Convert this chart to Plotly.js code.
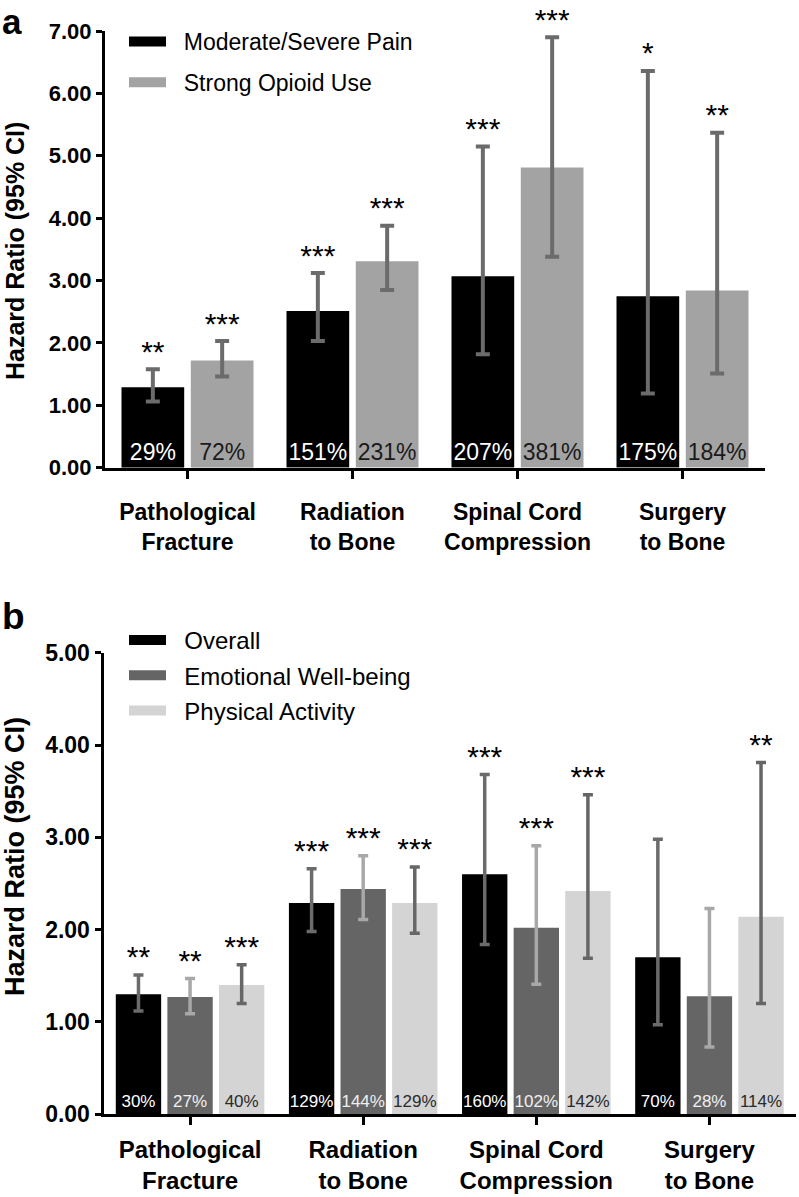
<!DOCTYPE html>
<html>
<head>
<meta charset="utf-8">
<script src="https://cdn.plot.ly/plotly-3.0.1.min.js"></script>
<style>html,body{margin:0;padding:0;background:#fff;}#chart{width:799px;height:1197px;}</style>
</head>
<body>
<div id="chart"></div>
<script>
// ---------- DATA ----------
var categories = ['Pathological<br>Fracture', 'Radiation<br>to Bone', 'Spinal Cord<br>Compression', 'Surgery<br>to Bone'];

// Panel a
var painHR   = [1.29, 2.51, 3.07, 2.75];
var painLow  = [1.06, 2.03, 1.82, 1.19];
var painHigh = [1.58, 3.12, 5.15, 6.36];
var painPct  = ['29%', '151%', '207%', '175%'];
var painSig  = ['**', '***', '***', '*'];

var opioidHR   = [1.72, 3.31, 4.81, 2.84];
var opioidLow  = [1.46, 2.85, 3.38, 1.51];
var opioidHigh = [2.03, 3.88, 6.90, 5.37];
var opioidPct  = ['72%', '231%', '381%', '184%'];
var opioidSig  = ['***', '***', '***', '**'];

// Panel b
var overallHR   = [1.30, 2.29, 2.60, 1.70];
var overallLow  = [1.12, 1.98, 1.84, 0.97];
var overallHigh = [1.51, 2.66, 3.68, 2.98];
var overallPct  = ['30%', '129%', '160%', '70%'];
var overallSig  = ['**', '***', '***', ''];

var emoHR   = [1.27, 2.44, 2.02, 1.28];
var emoLow  = [1.09, 2.11, 1.41, 0.73];
var emoHigh = [1.47, 2.80, 2.91, 2.23];
var emoPct  = ['27%', '144%', '102%', '28%'];
var emoSig  = ['**', '***', '***', ''];

var physHR   = [1.40, 2.29, 2.42, 2.14];
var physLow  = [1.20, 1.96, 1.69, 1.20];
var physHigh = [1.62, 2.68, 3.46, 3.81];
var physPct  = ['40%', '129%', '142%', '114%'];
var physSig  = ['***', '***', '***', '**'];

var yTicksA = [0, 1, 2, 3, 4, 5, 6, 7];
var yTicksB = [0, 1, 2, 3, 4, 5];

// ---------- BUILD ----------
var FONT = 'Liberation Sans, Arial, Helvetica, sans-serif';
var PAD = '\u00a0\u00a0';
var idx = categories.map(function (c, i) { return i; });

function series(opts) {
  var xs = idx.map(function (i) { return i + opts.shift; });
  var bar = {
    type: 'bar', x: xs, y: opts.hr, width: opts.width,
    xaxis: opts.xa, yaxis: opts.ya,
    marker: { color: opts.color, line: { width: 0 } },
    text: opts.pct, textposition: 'inside', insidetextanchor: 'start',
    constraintext: 'none', textangle: 0,
    textfont: { family: FONT, size: opts.pctSize, color: opts.pctColor },
    error_y: {
      type: 'data', symmetric: false,
      array: opts.hr.map(function (v, i) { return opts.high[i] - v; }),
      arrayminus: opts.hr.map(function (v, i) { return v - opts.low[i]; }),
      color: opts.errColor, thickness: opts.errThick, width: opts.capW
    },
    showlegend: false, hoverinfo: 'skip'
  };
  var stars = {
    type: 'scatter', mode: 'text', x: xs, y: opts.high, text: opts.sig,
    xaxis: opts.xa, yaxis: opts.ya,
    textposition: 'top center', cliponaxis: false,
    textfont: { family: FONT, size: opts.starSize, color: '#000' },
    showlegend: false, hoverinfo: 'skip'
  };
  var leg = {
    type: 'scatter', mode: 'lines', x: [null], y: [null],
    xaxis: opts.xa, yaxis: opts.ya, name: PAD + opts.name, legend: opts.legend,
    legendgroup: opts.name,
    line: { color: opts.color, width: 12 }, showlegend: true, hoverinfo: 'skip'
  };
  return [bar, stars, leg];
}

var traces = [];
traces = traces.concat(series({
  name: 'Moderate/Severe Pain', legend: 'legend', xa: 'x', ya: 'y',
  hr: painHR, low: painLow, high: painHigh, pct: painPct, sig: painSig,
  shift: -0.21, width: 0.38, color: '#000000', pctColor: '#ffffff', pctSize: 23,
  errColor: '#6b6b6b', errThick: 4, capW: 7, starSize: 30
}));
traces = traces.concat(series({
  name: 'Strong Opioid Use', legend: 'legend', xa: 'x', ya: 'y',
  hr: opioidHR, low: opioidLow, high: opioidHigh, pct: opioidPct, sig: opioidSig,
  shift: 0.21, width: 0.38, color: '#a3a3a3', pctColor: '#1a1a1a', pctSize: 23,
  errColor: '#6b6b6b', errThick: 4, capW: 7, starSize: 30
}));
traces = traces.concat(series({
  name: 'Overall', legend: 'legend2', xa: 'x2', ya: 'y2',
  hr: overallHR, low: overallLow, high: overallHigh, pct: overallPct, sig: overallSig,
  shift: -0.298, width: 0.262, color: '#000000', pctColor: '#ffffff', pctSize: 17,
  errColor: '#6b6b6b', errThick: 3.5, capW: 5, starSize: 30
}));
traces = traces.concat(series({
  name: 'Emotional Well-being', legend: 'legend2', xa: 'x2', ya: 'y2',
  hr: emoHR, low: emoLow, high: emoHigh, pct: emoPct, sig: emoSig,
  shift: 0, width: 0.262, color: '#656565', pctColor: '#f0f0f0', pctSize: 17,
  errColor: '#a8a8a8', errThick: 3.5, capW: 5, starSize: 30
}));
traces = traces.concat(series({
  name: 'Physical Activity', legend: 'legend2', xa: 'x2', ya: 'y2',
  hr: physHR, low: physLow, high: physHigh, pct: physPct, sig: physSig,
  shift: 0.298, width: 0.262, color: '#d4d4d4', pctColor: '#2a2a2a', pctSize: 17,
  errColor: '#666666', errThick: 3.5, capW: 5, starSize: 30
}));

var W = 799, H = 1197;
function px(x) { return x / W; }
function py(y) { return 1 - y / H; }

function xAxis(dom, anchor, size, standoff) {
  return {
    domain: dom, anchor: anchor, range: [-0.5, 3.5], tickmode: 'array',
    tickvals: idx, ticktext: categories,
    showline: true, linecolor: '#000', linewidth: 3, mirror: false,
    ticks: 'outside', ticklen: 8, tickwidth: 3, tickcolor: '#000',
    ticklabelstandoff: standoff,
    tickfont: { family: FONT, size: size, color: '#000', weight: 'bold' },
    showgrid: false, zeroline: false, fixedrange: true
  };
}
function yAxis(dom, anchor, range, ticks, size) {
  return {
    domain: dom, anchor: anchor, range: range, tickmode: 'array',
    tickvals: ticks, ticktext: ticks.map(function (t) { return t.toFixed(2); }),
    showline: true, linecolor: '#000', linewidth: 3,
    ticks: 'outside', ticklen: 6, tickwidth: 3, tickcolor: '#000',
    tickfont: { family: FONT, size: size, color: '#000', weight: 'bold' },
    showgrid: false, zeroline: false, fixedrange: true
  };
}

var layout = {
  width: W, height: H,
  margin: { l: 0, r: 0, t: 0, b: 0 },
  paper_bgcolor: '#fff', plot_bgcolor: '#fff',
  barmode: 'overlay',
  font: { family: FONT, color: '#000' },
  xaxis: xAxis([px(105), px(765)], 'y', 23, 14),
  yaxis: yAxis([py(467.7), py(31)], 'x', [0, 7], yTicksA, 22),
  xaxis2: xAxis([px(103.5), px(796)], 'y2', 24, 4),
  yaxis2: yAxis([py(1114.3), py(652.7)], 'x2', [0, 5], yTicksB, 23),
  legend: {
    x: px(124), y: py(20), xanchor: 'left', yanchor: 'top',
    font: { family: FONT, size: 23, color: '#000' },
    bgcolor: 'rgba(0,0,0,0)', itemwidth: 37, tracegroupgap: 8, traceorder: 'grouped'
  },
  legend2: {
    x: px(124), y: py(618), xanchor: 'left', yanchor: 'top',
    font: { family: FONT, size: 24, color: '#000' },
    bgcolor: 'rgba(0,0,0,0)', itemwidth: 37, tracegroupgap: 1, traceorder: 'grouped'
  },
  annotations: [
    { text: 'a', xref: 'paper', yref: 'paper', x: px(0), y: py(0), xanchor: 'left', yanchor: 'top',
      showarrow: false, font: { family: FONT, size: 35, weight: 'bold', color: '#000' } },
    { text: 'b', xref: 'paper', yref: 'paper', x: px(0), y: py(594), xanchor: 'left', yanchor: 'top',
      showarrow: false, font: { family: FONT, size: 37, weight: 'bold', color: '#000' } },
    { text: 'Hazard Ratio (95% CI)', xref: 'paper', yref: 'paper', x: px(15), y: py(251),
      xanchor: 'center', yanchor: 'middle', textangle: -90, showarrow: false,
      font: { family: FONT, size: 25, weight: 'bold', color: '#000' } },
    { text: 'Hazard Ratio (95% CI)', xref: 'paper', yref: 'paper', x: px(15), y: py(857),
      xanchor: 'center', yanchor: 'middle', textangle: -90, showarrow: false,
      font: { family: FONT, size: 27, weight: 'bold', color: '#000' } }
  ]
};

Plotly.newPlot('chart', traces, layout, { staticPlot: true, displayModeBar: false });
</script>
</body>
</html>
